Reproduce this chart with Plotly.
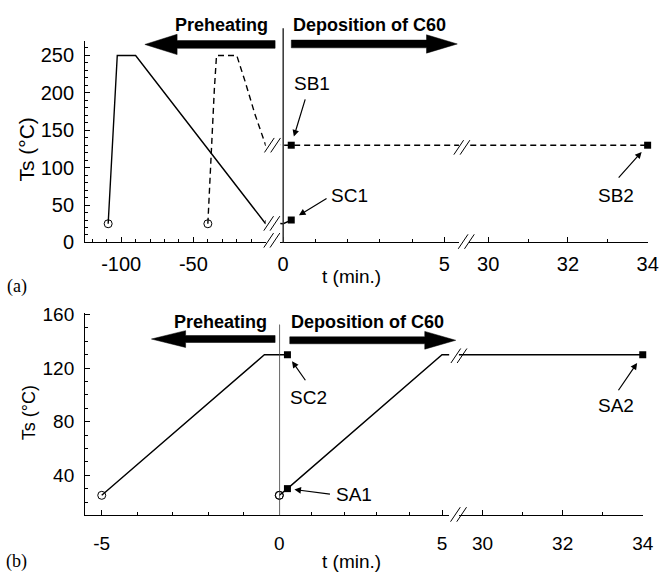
import plotly.graph_objects as go

W, H = 672, 586

# ---------------- data: panel (a) ----------------
a_solid_t = [-109, -102.7, -90, 0, 0.25]
a_solid_T = [25, 250, 250, 25, 30]
a_dash_t = [-40, -37.5, -35.5, -34, -20, -14.5, -7.5, 0, 0.25, 34]
a_dash_T = [25, 130, 205, 250, 250, 217, 172, 130, 130, 130]
a_open_t = [-109, -40]
a_open_T = [25, 25]
a_sq_names = ["SB1", "SC1", "SB2"]
a_sq_t = [0.25, 0.25, 34]
a_sq_T = [130, 30, 130]

# ---------------- data: panel (b) ----------------
b_pre_t = [-5, -0.42, 0.25]
b_pre_T = [25, 130, 130]
b_dep_t = [0, 0.25, 5, 34]
b_dep_T = [25, 30, 130, 130]
b_open_t = [-5, 0]
b_open_T = [25, 25]
b_sq_names = ["SC2", "SA1", "SA2"]
b_sq_t = [0.25, 0.25, 34]
b_sq_T = [130, 30, 130]

# ---------------- tick labels ----------------
a_seg1_ticks = [-100, -50]
a_seg1_text = ["-100", "-50"]
seg2_ticks = [0, 5]
seg3_ticks = [30, 32, 34]
a_y_ticks = [0, 50, 100, 150, 200, 250]
b_seg1_ticks = [-5]
b_seg1_text = ["-5"]
b_y_ticks = [40, 80, 120, 160]

FONT = "Liberation Sans, Arial, sans-serif"
SERIF = "Liberation Serif, Times New Roman, serif"


def px(x):
    return x / W


def py(y):
    return 1 - y / H


# axis segments: (name, domain px, range, tickvals, ticktext, minor dtick)
segments = {
    "a": [
        ("x", [82, 267], [-125, 0], a_seg1_ticks, a_seg1_text, 10),
        ("x2", [282, 465], [-0.09, 5.45], seg2_ticks, None, 1),
        ("x3", [475, 658.3], [29.51, 34], seg3_ticks, None, 1),
    ],
    "b": [
        ("x4", [82, 281], [-5.47, 0], b_seg1_ticks, b_seg1_text, 1),
        ("x5", [281, 455], [0, 5.22], seg2_ticks, None, 1),
        ("x6", [465, 653.3], [29.41, 34], seg3_ticks, None, 1),
    ],
}
yname = {"a": "y", "b": "y2"}

panels = {
    "a": {
        "lines": [(a_solid_t, a_solid_T, "solid"), (a_dash_t, a_dash_T, "6px,4px")],
        "open": (a_open_t, a_open_T),
        "sq": (a_sq_t, a_sq_T),
    },
    "b": {
        "lines": [(b_pre_t, b_pre_T, "solid"), (b_dep_t, b_dep_T, "solid")],
        "open": (b_open_t, b_open_T),
        "sq": (b_sq_t, b_sq_T),
    },
}

fig = go.Figure()

for p, segs in segments.items():
    for (xn, dom, rng, tv, tt, mdt) in segs:
        for (tx, ty, dash) in panels[p]["lines"]:
            fig.add_trace(go.Scatter(x=tx, y=ty, xaxis=xn, yaxis=yname[p], mode="lines",
                                     line=dict(color="black", width=1.4, dash=dash),
                                     hoverinfo="skip", showlegend=False))
        ot, oT = panels[p]["open"]
        sel = [(t, v) for t, v in zip(ot, oT) if rng[0] <= t <= rng[1]]
        if sel:
            fig.add_trace(go.Scatter(x=[s[0] for s in sel], y=[s[1] for s in sel],
                                     xaxis=xn, yaxis=yname[p], mode="markers", cliponaxis=False,
                                     marker=dict(symbol="circle-open", size=8, color="black",
                                                 line=dict(width=1, color="black")),
                                     hoverinfo="skip", showlegend=False))
        st, sT = panels[p]["sq"]
        sel = [(t, v) for t, v in zip(st, sT) if rng[0] <= t <= rng[1]]
        if sel:
            fig.add_trace(go.Scatter(x=[s[0] for s in sel], y=[s[1] for s in sel],
                                     xaxis=xn, yaxis=yname[p], mode="markers", cliponaxis=False,
                                     marker=dict(symbol="square", size=7, color="black"),
                                     hoverinfo="skip", showlegend=False))

layout = dict(
    width=W, height=H,
    margin=dict(l=0, r=0, t=0, b=0),
    paper_bgcolor="white", plot_bgcolor="rgba(0,0,0,0)",
    font=dict(family=FONT, size=20, color="black"),
    showlegend=False,
)

for p, segs in segments.items():
    standoff = 4 if p == "a" else 11
    for (xn, dom, rng, tv, tt, mdt) in segs:
        key = "xaxis" if xn == "x" else "xaxis" + xn[1:]
        ax = dict(domain=[px(dom[0]), px(dom[1])], range=rng, anchor=yname[p],
                  showline=True, linecolor="black", linewidth=1,
                  showgrid=False, zeroline=False,
                  ticks="inside", ticklen=5, tickwidth=1, tickcolor="black",
                  tickmode="array", tickvals=tv,
                  tickfont=dict(family=FONT, size=20 if p == "a" else 19),
                  ticklabelstandoff=standoff,
                  minor=dict(tickmode="linear", tick0=0, dtick=mdt, ticks="inside",
                             ticklen=3, tickcolor="black", tickwidth=1))
        if tt is not None:
            ax["ticktext"] = tt
        layout[key] = ax

layout["yaxis"] = dict(domain=[py(241.7), py(33)], range=[0, 269.5], anchor="x",
                       showline=True, linecolor="black", linewidth=1,
                       showgrid=False, zeroline=False,
                       ticks="inside", ticklen=5, tickwidth=1, tickcolor="black",
                       tickmode="array", tickvals=a_y_ticks,
                       tickfont=dict(family=FONT, size=20), ticklabelstandoff=6,
                       minor=dict(tickmode="linear", tick0=0, dtick=10, ticks="inside",
                                  ticklen=3, tickcolor="black", tickwidth=1))
layout["yaxis2"] = dict(domain=[py(524.3), py(315)], range=[10, 161], anchor="x4",
                        showline=True, linecolor="black", linewidth=1,
                        showgrid=False, zeroline=False,
                        ticks="inside", ticklen=5, tickwidth=1, tickcolor="black",
                        tickmode="array", tickvals=b_y_ticks,
                        tickfont=dict(family=FONT, size=19), ticklabelstandoff=6,
                        minor=dict(tickmode="linear", tick0=0, dtick=10, ticks="inside",
                                   ticklen=3, tickcolor="black", tickwidth=1))
fig.update_layout(**layout)

shapes = []
# t = 0 vertical lines
shapes.append(dict(type="line", xref="x2", yref="paper", x0=0, x1=0, y0=py(241.7), y1=py(20),
                   line=dict(color="#333333", width=1.5)))
shapes.append(dict(type="line", xref="x5", yref="paper", x0=0, x1=0, y0=py(524.3), y1=py(326.7),
                   line=dict(color="#333333", width=1.5)))


def big_arrow(x_tail, x_tip, y, head_len, half_head, half_shaft):
    s = 1 if x_tip > x_tail else -1
    xb = x_tip - s * head_len
    pts = [(x_tail, y - half_shaft), (xb, y - half_shaft), (xb, y - half_head), (x_tip, y),
           (xb, y + half_head), (xb, y + half_shaft), (x_tail, y + half_shaft)]
    path = "M " + " L ".join(f"{px(a):.5f},{py(b):.5f}" for a, b in pts) + " Z"
    return dict(type="path", xref="paper", yref="paper", path=path,
                fillcolor="black", line=dict(color="black", width=0.5))


shapes.append(big_arrow(276.7, 143.3, 36.7, 33, 10.5, 4))
shapes.append(big_arrow(293.3, 463.3, 36.2, 31.5, 9.5, 4))
shapes.append(big_arrow(276.7, 150, 341.7, 35, 8.7, 3.6))
shapes.append(big_arrow(291.7, 461.7, 343, 31.7, 9.2, 3.6))


def break_mark(cx, cy):
    out = []
    for dx in (-3.2, 3.2):
        out.append(dict(type="line", xref="paper", yref="paper",
                        x0=px(cx + dx - 5), y0=py(cy + 7.5), x1=px(cx + dx + 5), y1=py(cy - 7.5),
                        line=dict(color="black", width=1)))
    return out


for c in [(273.3, 239.5), (273.3, 222), (274, 141), (472.5, 240.8), (468, 143.3),
          (464.6, 523.3), (465, 359)]:
    shapes += break_mark(*c)

fig.update_layout(shapes=shapes)

ann = []
# header texts
for (x, y, t) in [(221.5, 16.5, "Preheating"), (373.5, 16.5, "Deposition of C60"),
                  (220.7, 324.5, "Preheating"), (371.3, 324, "Deposition of C60")]:
    ann.append(dict(xref="paper", yref="paper", x=px(x), y=py(y), text=f"<b>{t}</b>",
                    showarrow=False, xanchor="center", yanchor="middle",
                    font=dict(family=FONT, size=18, color="black")))
# axis titles
for (x, y, t, s, ang) in [(22, 145, "Ts (°C)", 21, -90), (24, 418, "Ts (°C)", 18, -90),
                          (355, 277, "t (min.)", 19, 0), (355, 572, "t (min.)", 19, 0)]:
    ann.append(dict(xref="paper", yref="paper", x=px(x), y=py(y), text=t, textangle=ang,
                    showarrow=False, xanchor="center", yanchor="middle",
                    font=dict(family=FONT, size=s, color="black")))
for (x, y, t) in [(12, 287, "(a)"), (12, 572, "(b)")]:
    ann.append(dict(xref="paper", yref="paper", x=px(x), y=py(y), text=t,
                    showarrow=False, xanchor="center", yanchor="middle",
                    font=dict(family=SERIF, size=18, color="black")))

# sample labels: (xaxis, yaxis, arrow ax, ay, standoff, text xshift, yshift)
label_layout = {
    "SB1": ("x2", "y", 14.4, -47.4, 9, 20.4, 61.4),
    "SC1": ("x2", "y", 36.8, -22.5, 9, 57.8, 24.5),
    "SB2": ("x3", "y", -30.3, 34, 9, -31.3, -50),
    "SC2": ("x5", "y2", 19, 27, 8, 21.4, -42.8),
    "SA1": ("x5", "y2", 44, 5.7, 7, 66.7, -5.9),
    "SA2": ("x6", "y2", -25.3, 37, 10, -27.1, -51),
}
for names, ts, Ts in [(a_sq_names, a_sq_t, a_sq_T), (b_sq_names, b_sq_t, b_sq_T)]:
    for n, t, v in zip(names, ts, Ts):
        xr, yr, axp, ayp, so, xs, ys = label_layout[n]
        ann.append(dict(xref=xr, yref=yr, x=t, y=v, text="", showarrow=True,
                        ax=axp, ay=ayp, axref="pixel", ayref="pixel",
                        arrowhead=2, arrowsize=1.1, arrowwidth=1.2, arrowcolor="black",
                        standoff=so))
        ann.append(dict(xref=xr, yref=yr, x=t, y=v, text=n, showarrow=False,
                        xshift=xs, yshift=ys, xanchor="center", yanchor="middle",
                        font=dict(family=FONT, size=19, color="black")))

fig.update_layout(annotations=ann)
fig.write_html("out.html", config={"displayModeBar": False},
               post_script="document.body.style.margin='0px';document.body.style.overflow='hidden';")
